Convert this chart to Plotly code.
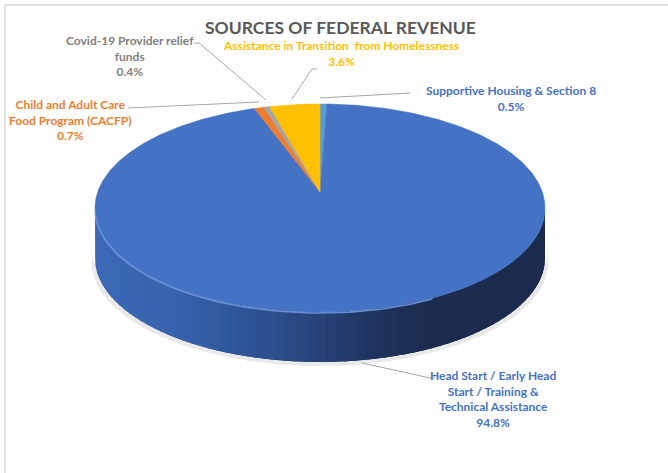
import numpy as np
import plotly.graph_objects as go

# ---------------- data ----------------
categories = [
    "Supportive Housing & Section 8",
    "Head Start / Early Head Start / Training & Technical Assistance",
    "Child and Adult Care Food Program (CACFP)",
    "Covid-19 Provider relief funds",
    "Assistance in Transition from Homelessness",
]
values = [0.5, 94.8, 0.7, 0.4, 3.6]
label_texts = [
    "Supportive Housing & Section 8",
    "Head Start / Early Head<br>Start / Training &<br>Technical Assistance",
    "Child and Adult Care<br>Food Program (CACFP)",
    "Covid-19 Provider relief<br>funds",
    "Assistance in Transition  from Homelessness",
]
title_text = "SOURCES OF FEDERAL REVENUE"

# ---------------- styling / layout ----------------
colors = ["#5B9BD5", "#4472C4", "#ED7D31", "#A5A5A5", "#FFC000"]
label_colors = ["#4472C4", "#4472C4", "#ED7D31", "#7F7F7F", "#FFC000"]
W, H = 668, 473
cx, cy, a, b = 320.0, 208.0, 225.0, 104.0
apex_dy = -16.0
depth = 50.0

def ell(theta_deg):
    t = np.radians(theta_deg)
    return cx + a * np.sin(t), cy - b * np.cos(t)

fig = go.Figure()

# cumulative angles (clockwise from 12 o'clock)
tot = float(sum(values))
edges = np.concatenate([[0.0], np.cumsum(values) / tot * 360.0])

# shadow
th = np.linspace(90, 270, 120)
sx, sy = ell(th)
shx = cx + (sx - cx) * 1.015
shy = sy + depth + 4
fig.add_trace(go.Scatter(
    x=np.concatenate([shx, shx[::-1]]),
    y=np.concatenate([shy, (sy + depth - 10)[::-1]]),
    fill="toself", mode="lines", line=dict(width=0, color="#e9e9e9"),
    fillcolor="#e9e9e9", hoverinfo="skip", showlegend=False))

# side wall (front half) with gradient strips
stops_x = [95, 180, 280, 370, 430, 546]
stops_c = [(0x3d, 0x6a, 0xb7), (0x36, 0x62, 0xab), (0x2b, 0x4c, 0x88),
           (0x1f, 0x33, 0x5e), (0x1b, 0x2b, 0x4d), (0x1b, 0x2b, 0x4d)]

def wall_color(xv):
    r = np.interp(xv, stops_x, [c[0] for c in stops_c])
    g = np.interp(xv, stops_x, [c[1] for c in stops_c])
    bb = np.interp(xv, stops_x, [c[2] for c in stops_c])
    return "rgb(%d,%d,%d)" % (r, g, bb)

N = 70
bounds = np.linspace(90, 270, N + 1)
step = bounds[1] - bounds[0]
for i in range(N):
    lo = max(90, bounds[i] - step * 0.6)
    hi = min(270, bounds[i + 1] + step * 0.6)
    tt = np.linspace(lo, hi, 5)
    ex, ey = ell(tt)
    col = wall_color(ell(np.linspace(bounds[i], bounds[i + 1], 3))[0].mean())
    fig.add_trace(go.Scatter(
        x=np.concatenate([ex, ex[::-1]]),
        y=np.concatenate([ey, (ey + depth)[::-1]]),
        fill="toself", mode="lines", line=dict(width=0, color=col),
        fillcolor=col, hoverinfo="skip", showlegend=False))

# top face slices
ax_, ay_ = cx, cy + apex_dy
for i, v in enumerate(values):
    t0, t1 = edges[i], edges[i + 1]
    tt = np.linspace(t0, t1, max(4, int((t1 - t0) * 2)))
    ex, ey = ell(tt)
    fig.add_trace(go.Scatter(
        x=np.concatenate([[ax_], ex, [ax_]]),
        y=np.concatenate([[ay_], ey, [ay_]]),
        fill="toself", mode="lines",
        line=dict(width=0.6, color=colors[i]),
        fillcolor=colors[i], name=categories[i],
        hoverinfo="skip", showlegend=False))

# rim highlight
tt = np.linspace(150, 268, 80)
hx, hy = ell(tt)
fig.add_trace(go.Scatter(x=hx, y=hy + 1, mode="lines",
                         line=dict(width=1.6, color="rgba(110,150,220,0.9)"),
                         hoverinfo="skip", showlegend=False))

# leader lines
leaders = [
    ([320, 410], [98, 93]),
    ([362, 430, 435], [363, 378, 378]),
    ([128, 259], [108, 102]),
    ([194, 199, 266], [43, 43, 100]),
    ([317, 312, 292], [69, 69, 99]),
]
for lx, ly in leaders:
    fig.add_trace(go.Scatter(x=lx, y=ly, mode="lines",
                             line=dict(width=1, color="#A6A6A6"),
                             hoverinfo="skip", showlegend=False))

# labels
label_pos = [(511, 98), (493, 399), (70, 120), (130, 56), (341, 53.5)]
for i, (px, py) in enumerate(label_pos):
    fig.add_annotation(
        x=px, y=py, xref="x", yref="y", showarrow=False,
        text="<b>%s<br>%.1f%%</b>" % (label_texts[i], values[i]),
        font=dict(family="Lato", size=12, color=label_colors[i]),
        align="center", xanchor="center", yanchor="middle")

fig.add_annotation(x=340, y=27, xref="x", yref="y", showarrow=False,
                   text="<b>%s</b>" % title_text,
                   font=dict(family="Lato", size=17.5, color="#595959"),
                   xanchor="center", yanchor="middle")

# chart border
fig.add_shape(type="rect", x0=5, y0=5, x1=720, y1=520, xref="x", yref="y",
              line=dict(color="#D9D9D9", width=1.5), layer="below")

fig.update_layout(
    width=W, height=H, autosize=False,
    margin=dict(l=0, r=0, t=0, b=0),
    paper_bgcolor="white", plot_bgcolor="white",
    xaxis=dict(range=[0, W], visible=False, fixedrange=True),
    yaxis=dict(range=[H, 0], visible=False, fixedrange=True),
    showlegend=False,
)

fig.write_html("out.html",
               config={"displayModeBar": False},
               post_script="document.body.style.margin='0';document.body.style.overflow='hidden';")
